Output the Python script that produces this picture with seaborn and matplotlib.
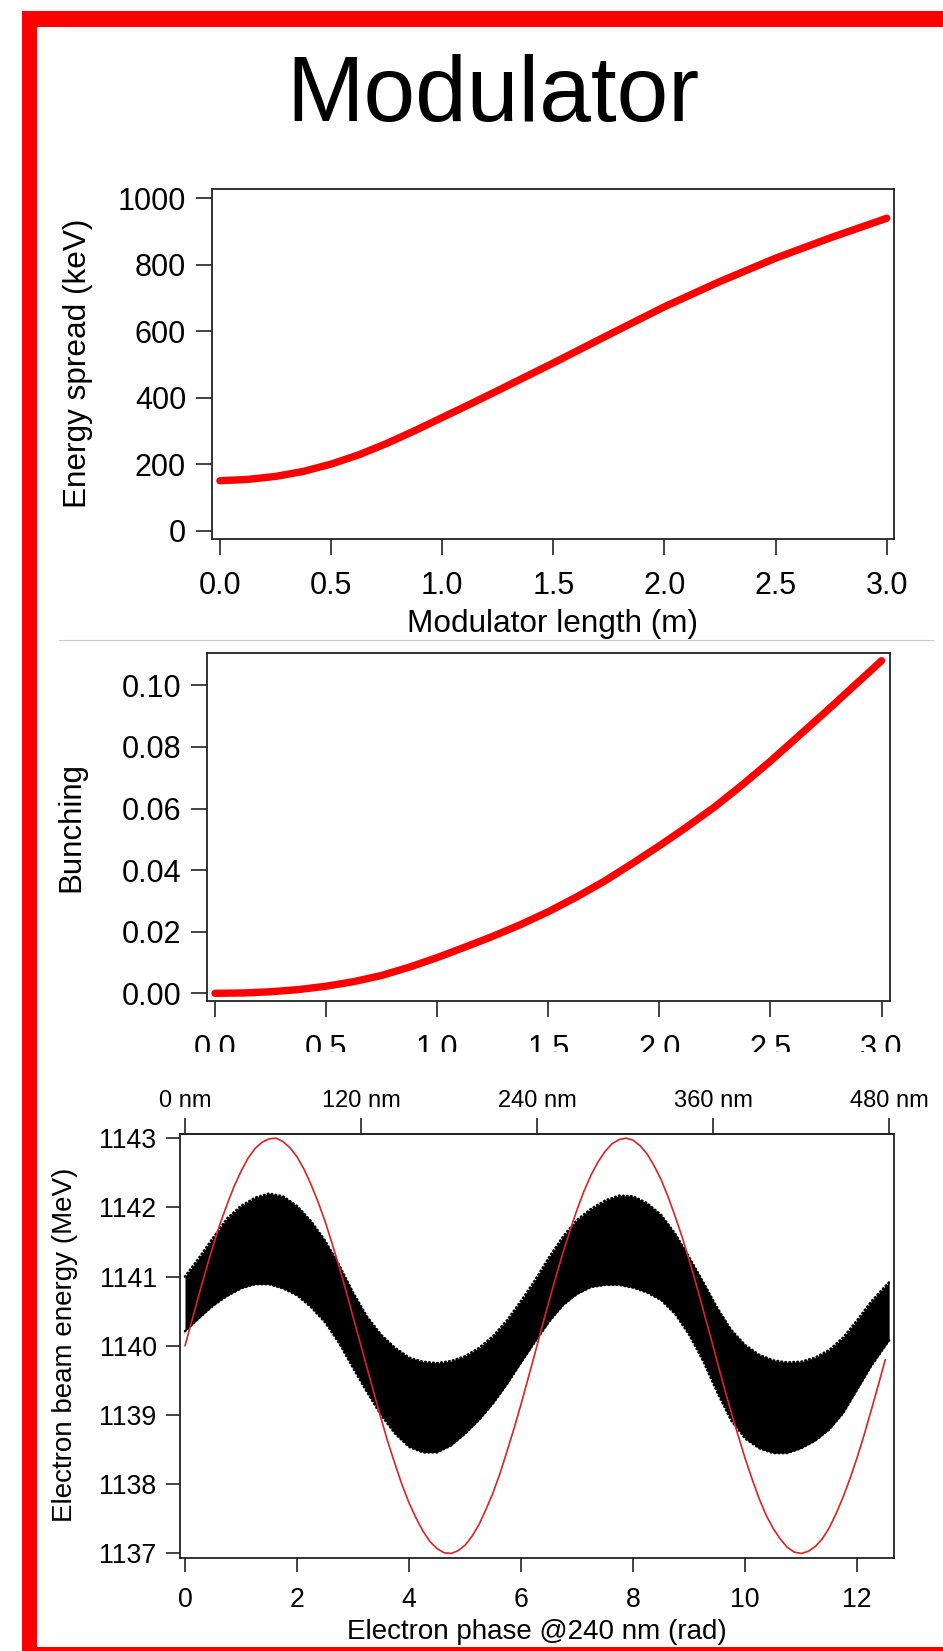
import numpy as np
import pandas as pd
import matplotlib
matplotlib.use("Agg")
import matplotlib.pyplot as plt
import matplotlib.patches as mpatches
from matplotlib.lines import Line2D
from matplotlib.ticker import StrMethodFormatter
import seaborn as sns

# --- values ---
# top panel: energy spread vs modulator length
length_m = [0.0, 0.125, 0.25, 0.375, 0.5, 0.625, 0.75, 0.875, 1.0, 1.125, 1.25,
            1.5, 1.75, 2.0, 2.25, 2.5, 2.75, 3.0]
energy_spread_kev = [151, 155, 164, 179, 201, 229, 263, 301, 341, 381, 422,
                     505, 590, 674, 750, 820, 882, 940]

# middle panel: bunching vs modulator length
bunch_length_m = [0.0, 0.125, 0.25, 0.375, 0.5, 0.625, 0.75, 0.875, 1.0, 1.125, 1.25,
                  1.375, 1.5, 1.625, 1.75, 1.875, 2.0, 2.125, 2.25, 2.375, 2.5, 2.75, 3.0]
bunching = [0.0, 0.0001, 0.0005, 0.0012, 0.0023, 0.0038, 0.0058, 0.0085, 0.0116, 0.0150,
            0.0185, 0.0223, 0.0265, 0.0312, 0.0363, 0.0420, 0.0479, 0.0541, 0.0606,
            0.0678, 0.0754, 0.0915, 0.1080]

# bottom panel: red modulation curve, electron phase (rad) -> energy (MeV)
mod_phase = [0.0, 0.125, 0.25, 0.375, 0.5, 0.625, 0.75, 0.875, 1.0, 1.125, 1.25, 1.375,
             1.5, 1.625, 1.75, 1.875, 2.0, 2.125, 2.25, 2.375, 2.5, 2.625, 2.75, 2.875,
             3.0, 3.125, 3.25, 3.375, 3.5, 3.625, 3.75, 3.875, 4.0, 4.125, 4.25, 4.375,
             4.5, 4.625, 4.75, 4.875, 5.0, 5.125, 5.25, 5.375, 5.5, 5.625, 5.75, 5.875,
             6.0, 6.125, 6.25, 6.375, 6.5, 6.625, 6.75, 6.875, 7.0, 7.125, 7.25, 7.375,
             7.5, 7.625, 7.75, 7.875, 8.0, 8.125, 8.25, 8.375, 8.5, 8.625, 8.75, 8.875,
             9.0, 9.125, 9.25, 9.375, 9.5, 9.625, 9.75, 9.875, 10.0, 10.125, 10.25, 10.375,
             10.5, 10.625, 10.75, 10.875, 11.0, 11.125, 11.25, 11.375, 11.5, 11.625, 11.75,
             11.875, 12.0, 12.125, 12.25, 12.375, 12.5]
mod_energy = [1140.00, 1140.37, 1140.74, 1141.10, 1141.44, 1141.76, 1142.04, 1142.30,
              1142.52, 1142.71, 1142.85, 1142.94, 1142.99, 1143.00, 1142.95, 1142.86,
              1142.73, 1142.55, 1142.33, 1142.08, 1141.80, 1141.48, 1141.15, 1140.79,
              1140.42, 1140.05, 1139.68, 1139.31, 1138.95, 1138.60, 1138.29, 1137.99,
              1137.73, 1137.51, 1137.32, 1137.17, 1137.07, 1137.01, 1137.00, 1137.04,
              1137.12, 1137.25, 1137.42, 1137.64, 1137.88, 1138.16, 1138.48, 1138.81,
              1139.16, 1139.53, 1139.90, 1140.28, 1140.65, 1141.01, 1141.35, 1141.67,
              1141.97, 1142.24, 1142.47, 1142.66, 1142.81, 1142.92, 1142.98, 1143.00,
              1142.97, 1142.89, 1142.77, 1142.60, 1142.40, 1142.15, 1141.87, 1141.57,
              1141.24, 1140.89, 1140.52, 1140.15, 1139.77, 1139.40, 1139.04, 1138.70,
              1138.37, 1138.07, 1137.79, 1137.55, 1137.36, 1137.21, 1137.09, 1137.02,
              1137.00, 1137.03, 1137.10, 1137.21, 1137.37, 1137.58, 1137.82, 1138.09,
              1138.39, 1138.72, 1139.07, 1139.43, 1139.80]

# envelope of the tracked electrons (MeV)
band_phase = [0.0, 0.25, 0.5, 0.75, 1.0, 1.25, 1.5, 1.75, 2.0, 2.25, 2.5, 2.75, 3.0,
              3.25, 3.5, 3.75, 4.0, 4.25, 4.5, 4.75, 5.0, 5.25, 5.5, 5.75, 6.0, 6.25,
              6.5, 6.75, 7.0, 7.25, 7.5, 7.75, 8.0, 8.25, 8.5, 8.75, 9.0, 9.25, 9.5,
              9.75, 10.0, 10.25, 10.5, 10.75, 11.0, 11.25, 11.5, 11.75, 12.0, 12.25,
              12.5, 12.57]
band_upper = [1141.00, 1141.27, 1141.56, 1141.84, 1142.02, 1142.14, 1142.20, 1142.16,
              1142.02, 1141.80, 1141.52, 1141.17, 1140.77, 1140.42, 1140.16, 1139.97,
              1139.83, 1139.77, 1139.75, 1139.78, 1139.85, 1139.97, 1140.14, 1140.37,
              1140.65, 1140.95, 1141.28, 1141.58, 1141.82, 1141.98, 1142.10, 1142.17,
              1142.16, 1142.06, 1141.89, 1141.62, 1141.28, 1140.92, 1140.55, 1140.23,
              1140.01, 1139.87, 1139.79, 1139.76, 1139.77, 1139.83, 1139.94, 1140.12,
              1140.37, 1140.64, 1140.86, 1140.92]
band_lower = [1140.21, 1140.40, 1140.58, 1140.72, 1140.83, 1140.89, 1140.89, 1140.83,
              1140.73, 1140.56, 1140.34, 1140.04, 1139.68, 1139.33, 1139.00, 1138.73,
              1138.54, 1138.46, 1138.46, 1138.56, 1138.73, 1138.93, 1139.17, 1139.45,
              1139.76, 1140.06, 1140.35, 1140.59, 1140.75, 1140.85, 1140.88, 1140.88,
              1140.84, 1140.77, 1140.66, 1140.46, 1140.16, 1139.78, 1139.33, 1138.92,
              1138.66, 1138.52, 1138.45, 1138.45, 1138.52, 1138.63, 1138.79, 1139.03,
              1139.37, 1139.71, 1140.00, 1140.08]

nm_ticks = [0, 120, 240, 360, 480]
wavelength_nm = 240

df_es = pd.DataFrame({"length": length_m, "spread": energy_spread_kev})
df_b = pd.DataFrame({"length": bunch_length_m, "bunching": bunching})
df_mod = pd.DataFrame({"phase": mod_phase, "energy": mod_energy})

# --- style ---
sns.set_style("ticks")
plt.rcParams["font.family"] = ["Liberation Sans", "DejaVu Sans"]
plt.rcParams["text.color"] = "black"
plt.rcParams["axes.labelcolor"] = "black"
axis_col = "#222222"

W, H = 943, 1651
fig = plt.figure(figsize=(W / 100, H / 100), dpi=100)


def px_axes(left, top, right, bottom):
    return fig.add_axes([left / W, (H - bottom) / H, (right - left) / W, (bottom - top) / H])


def style_axes(ax, tick_size, xpad, ypad, tlen=11.5):
    for s in ax.spines.values():
        s.set_visible(True)
        s.set_color(axis_col)
        s.set_linewidth(1.3)
    ax.tick_params(axis="both", direction="out", length=tlen, width=1.2, color=axis_col,
                   labelsize=tick_size, labelcolor="black")
    ax.tick_params(axis="x", pad=xpad)
    ax.tick_params(axis="y", pad=ypad)


# --- top panel ---
ax1 = px_axes(211.7, 189.3, 894.3, 539.3)
sns.lineplot(data=df_es, x="length", y="spread", ax=ax1, color="#ff0000", linewidth=5.3,
             solid_capstyle="round", solid_joinstyle="round")
ax1.set_xlim(-0.037, 3.034)
ax1.set_ylim(-25, 1027)
ax1.set_xticks([0, 0.5, 1.0, 1.5, 2.0, 2.5, 3.0])
ax1.set_yticks([0, 200, 400, 600, 800, 1000])
ax1.xaxis.set_major_formatter(StrMethodFormatter("{x:.1f}"))
style_axes(ax1, 22, 11, 7)
ax1.set_xlabel("Modulator length (m)", fontsize=22.7, va="center")
ax1.xaxis.set_label_coords(0.4991, -0.242)
ax1.set_ylabel("Energy spread (keV)", fontsize=22.7, va="center")
ax1.yaxis.set_label_coords(-0.1966, 0.5037)

# --- middle panel ---
ax2 = px_axes(206.7, 652.7, 890, 1001)
sns.lineplot(data=df_b, x="length", y="bunching", ax=ax2, color="#ff0000", linewidth=5.3,
             solid_capstyle="round", solid_joinstyle="round")
ax2.set_xlim(-0.0375, 3.038)
ax2.set_ylim(-0.0025, 0.1106)
ax2.set_xticks([0, 0.5, 1.0, 1.5, 2.0, 2.5, 3.0])
ax2.set_yticks([0, 0.02, 0.04, 0.06, 0.08, 0.10])
ax2.xaxis.set_major_formatter(StrMethodFormatter("{x:.1f}"))
ax2.yaxis.set_major_formatter(StrMethodFormatter("{x:.2f}"))
style_axes(ax2, 22, 12, 6.5)
ax2.set_xlabel("")
ax2.set_ylabel("Bunching", fontsize=22.5, va="center")
ax2.yaxis.set_label_coords(-0.1976, 0.5004)

# --- bottom panel ---
ax3 = px_axes(180, 1134, 893.7, 1558.3)
ax3.fill_between(band_phase, band_lower, band_upper, color="black", linewidth=0)
# slightly ragged edge of the particle cloud
for edge in (band_upper, band_lower):
    ax3.plot(band_phase, edge, color="black", linewidth=1.8, linestyle=(0, (0.3, 1.3)),
             dash_capstyle="round")
sns.lineplot(data=df_mod, x="phase", y="energy", ax=ax3, color="#dd2222", linewidth=1.2)
ax3.set_xlim(-0.089, 12.651)
ax3.set_ylim(1136.93, 1143.06)
ax3.set_xticks([0, 2, 4, 6, 8, 10, 12])
ax3.set_yticks([1137, 1138, 1139, 1140, 1141, 1142, 1143])
ax3.yaxis.set_major_formatter(StrMethodFormatter("{x:.0f}"))
style_axes(ax3, 19.2, 10, 6.5, tlen=10.4)
ax3.set_xlabel("Electron phase @240 nm (rad)", fontsize=20, va="center")
ax3.xaxis.set_label_coords(0.5006, -0.1737)
ax3.set_ylabel("Electron beam energy (MeV)", fontsize=20, va="center")
ax3.yaxis.set_label_coords(-0.1618, 0.5027)

sec = ax3.secondary_xaxis("top", functions=(lambda r: r * wavelength_nm / (2 * np.pi),
                                            lambda n: n * 2 * np.pi / wavelength_nm))
sec.set_xticks(nm_ticks)
sec.set_xticklabels([f"{v} nm" for v in nm_ticks])
sec.tick_params(direction="out", length=11.5, width=1.2, color=axis_col, labelsize=17,
                pad=4, labelcolor="black")
sec.spines["top"].set_color(axis_col)
sec.spines["top"].set_linewidth(1.3)

# lower part of the middle panel tick labels is cut off in the original
fig.patches.append(mpatches.Rectangle((40 / W, (H - 1085) / H), 1, 33 / H,
                                      transform=fig.transFigure, facecolor="white",
                                      edgecolor="none", zorder=5))

# thin grey separator between top and middle panels
fig.lines.append(Line2D([59 / W, 933 / W], [(H - 640.5) / H] * 2, transform=fig.transFigure,
                        color="#c8c8c8", linewidth=0.8))

# red frame
frame = dict(transform=fig.transFigure, facecolor="#ff0000", edgecolor="none", zorder=6)
fig.patches.append(mpatches.Rectangle((21.7 / W, (H - 27) / H), 1, 16 / H, **frame))
fig.patches.append(mpatches.Rectangle((21.7 / W, 0), 15 / W, (H - 11) / H, **frame))
fig.patches.append(mpatches.Rectangle((21.7 / W, 0), 1, 4.5 / H, **frame))

fig.text(493 / W, (H - 121) / H, "Modulator", ha="center", va="baseline", fontsize=67,
         color="black")

fig.savefig("out.png", dpi=100)
